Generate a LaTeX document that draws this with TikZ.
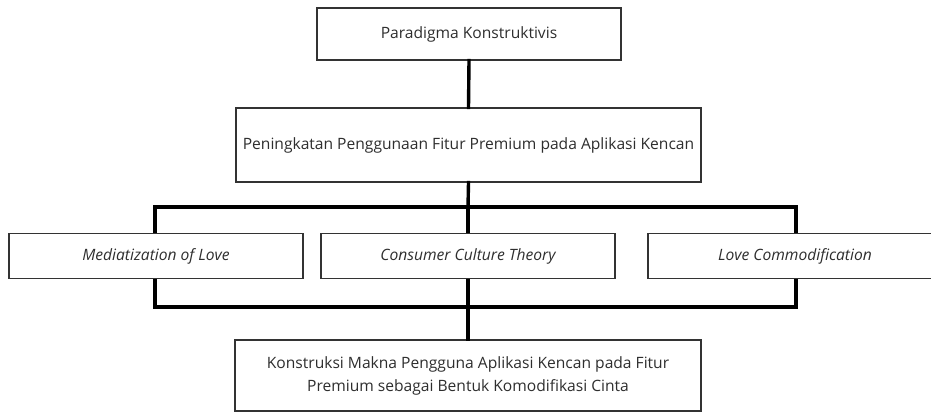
\documentclass[tikz,border=0pt]{standalone}
\usepackage{fontspec}
\setmainfont{Open Sans}
\definecolor{boxline}{HTML}{333333}
\definecolor{txt}{HTML}{2E2E2E}
\begin{document}
\begin{tikzpicture}[x=1pt,y=-1pt,
  box/.style={draw=boxline, line width=1.3pt, fill=white, text=txt, inner sep=0pt, align=center,
    font=\fontsize{15.6}{23}\selectfont},
  conn/.style={draw=black, line width=3.4pt, line cap=rect}]
\useasboundingbox (0,0) rectangle (931,412);
\node[box, minimum width=304pt, minimum height=52pt] (top) at (469,34) {Paradigma Konstruktivis};
\node[box, minimum width=465pt, minimum height=74pt] (sec) at (468.5,145) {Peningkatan Penggunaan Fitur Premium pada Aplikasi Kencan};
\coordinate (bt) at (468,207);
\coordinate (bb) at (468,307);
\draw[conn] (top.south) -- (sec.north);
\path (156,256) coordinate (lc) (468,256) coordinate (mc) (795,256) coordinate (rc);
\draw[conn] (sec.south) -- (bt);
\draw[conn] (155,233) |- (bt) -| (796,233);
\draw[conn] (bt) -- (468,233);
\draw[conn] (155,279) |- (bb) -| (796,279);
\draw[conn] (468,279) -- (bb);
\node[box, minimum width=466pt, minimum height=71pt] (bot) at (468,375.5) {Konstruksi Makna Pengguna Aplikasi Kencan pada Fitur\\Premium sebagai Bentuk Komodifikasi Cinta};
\draw[conn] (bb) -- (bot.north);
\node[box, minimum width=294pt, minimum height=45pt] (left) at (lc) {\itshape Mediatization of Love};
\node[box, minimum width=294pt, minimum height=45pt] (mid) at (mc) {\itshape Consumer Culture Theory};
\node[box, minimum width=294pt, minimum height=45pt] (right) at (rc) {\itshape Love Commodification};
\end{tikzpicture}
\end{document}
